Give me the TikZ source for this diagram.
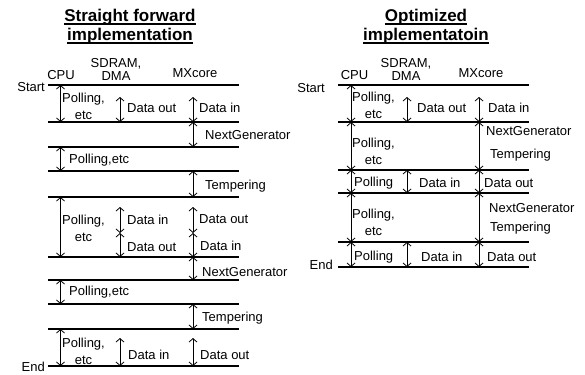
\documentclass[tikz,border=0pt]{standalone}
\usepackage{fontspec}
\setmainfont{Liberation Sans}
\usepackage{tikz}
\usetikzlibrary{arrows.meta}
\newcommand{\ulbar}[1]{\setbox0\hbox{#1}\rlap{\rule[-2.8pt]{\wd0}{1.2pt}}\box0}

\begin{document}
\begin{tikzpicture}[x=1pt, y=-1pt,
        every node/.style={inner sep=1pt, font=\fontsize{13}{17}\selectfont},
        lbl/.style={anchor=west, align=center},
        hdr/.style={align=center, font=\fontsize{13}{12.5}\selectfont},
        ttl/.style={align=center, font=\fontsize{17}{19}\selectfont\bfseries},
        tline/.style={line width=1.6pt},
        dur/.style={line width=0.8pt, {Straight Barb[length=3.5pt,width=8pt]}-{Straight Barb[length=3.5pt,width=8pt]}}]
        \useasboundingbox (0,0) rectangle (585,374);

        \node[ttl] (titleA) at (130,27) {\ulbar{Straight forward}\\\ulbar{implementation}};
        \node[ttl] (titleB) at (426,27) {\ulbar{Optimized}\\\ulbar{implementatoin}};

        \node[anchor=base] (cpuHA) at (61,80) {CPU};
        \node[hdr] (dmaHA) at (116,69.5) {SDRAM,\\DMA};
        \node[anchor=base] (mxHA) at (195,78) {MXcore};
        \node[anchor=base] (cpuHB) at (354.5,80) {CPU};
        \node[hdr] (dmaHB) at (406,69.5) {SDRAM,\\DMA};
        \node[anchor=base] (mxHB) at (481,78) {MXcore};

        \foreach \n/\y in {0/85,1/122,2/147,3/171,4/197,5/257,6/280,7/304,8/329,9/366}
            {\coordinate (sl\n) at (48,\y); \coordinate (sr\n) at (239,\y);
             \draw[tline] (sl\n) -- (sr\n);}
        \foreach \n/\y in {0/85,1/122,2/170,3/193,4/242,5/267}
            {\coordinate (ol\n) at (338,\y); \coordinate (or\n) at (529,\y);
             \draw[tline] (ol\n) -- (or\n);}

        \coordinate (cpuA) at (60.5,0);
        \coordinate (dmaA) at (120,0);
        \coordinate (mxA) at (193,0);
        \coordinate (cpuB) at (351,0);
        \coordinate (dmaB) at (407,0);
        \coordinate (mxB) at (479,0);
        \coordinate (sh1) at (48,97);
        \coordinate (sh5) at (48,207);
        \coordinate (sm5) at (48,233);
        \coordinate (sh9) at (48,338);
        \coordinate (oh1) at (338,97);

        \node[anchor=east] (startA) at (46,87) {Start};
        \node[anchor=east] (endA) at (46,367) {End};
        \node[anchor=east] (startB) at (326,88) {Start};
        \node[anchor=east] (endB) at (334,265) {End};

        \draw[dur] (cpuA |- sl0) -- (cpuA |- sl1);
        \draw[dur] (dmaA |- sh1) -- (dmaA |- sl1);
        \draw[dur] (mxA |- sh1) -- (mxA |- sl1);
        \draw[dur] (mxA |- sl1) -- (mxA |- sl2);
        \draw[dur] (cpuA |- sl2) -- (cpuA |- sl3);
        \draw[dur] (mxA |- sl3) -- (mxA |- sl4);
        \draw[dur] (cpuA |- sl4) -- (cpuA |- sl5);
        \draw[dur] (dmaA |- sh5) -- (dmaA |- sm5);
        \draw[dur] (dmaA |- sm5) -- (dmaA |- sl5);
        \draw[dur] (mxA |- sh5) -- (mxA |- sm5);
        \draw[dur] (mxA |- sm5) -- (mxA |- sl5);
        \draw[dur] (mxA |- sl5) -- (mxA |- sl6);
        \draw[dur] (cpuA |- sl6) -- (cpuA |- sl7);
        \draw[dur] (mxA |- sl7) -- (mxA |- sl8);
        \draw[dur] (cpuA |- sl8) -- (cpuA |- sl9);
        \draw[dur] (dmaA |- sh9) -- (dmaA |- sl9);
        \draw[dur] (mxA |- sh9) -- (mxA |- sl9);

        \draw[dur] (cpuB |- ol0) -- (cpuB |- ol1);
        \draw[dur] (dmaB |- oh1) -- (dmaB |- ol1);
        \draw[dur] (mxB |- oh1) -- (mxB |- ol1);
        \draw[dur] (cpuB |- ol1) -- (cpuB |- ol2);
        \draw[dur] (mxB |- ol1) -- (mxB |- ol2);
        \draw[dur] (cpuB |- ol2) -- (cpuB |- ol3);
        \draw[dur] (dmaB |- ol2) -- (dmaB |- ol3);
        \draw[dur] (mxB |- ol2) -- (mxB |- ol3);
        \draw[dur] (cpuB |- ol3) -- (cpuB |- ol4);
        \draw[dur] (mxB |- ol3) -- (mxB |- ol4);
        \draw[dur] (cpuB |- ol4) -- (cpuB |- ol5);
        \draw[dur] (dmaB |- ol4) -- (dmaB |- ol5);
        \draw[dur] (mxB |- ol4) -- (mxB |- ol5);

        \node[lbl] (pollA1) at (61,106) {Polling,\\etc};
        \node[lbl] (doutA1) at (126,108) {Data out};
        \node[lbl] (dinA1) at (198,108) {Data in};
        \node[lbl] (nextA1) at (204,135) {NextGenerator};
        \node[lbl] (pollA2) at (68,160) {Polling,etc};
        \node[lbl] (tempA1) at (204,186) {Tempering};
        \node[lbl] (pollA3) at (61,228) {Polling,\\etc};
        \node[lbl] (dinA2) at (126,220) {Data in};
        \node[lbl] (doutA2) at (126,247) {Data out};
        \node[lbl] (doutA3) at (198,219) {Data out};
        \node[lbl] (dinA3) at (199,246) {Data in};
        \node[lbl] (nextA2) at (201,272) {NextGenerator};
        \node[lbl] (pollA4) at (68,292) {Polling,etc};
        \node[lbl] (tempA2) at (201,318) {Tempering};
        \node[lbl] (pollA5) at (61,351) {Polling,\\etc};
        \node[lbl] (dinA4) at (127,355) {Data in};
        \node[lbl] (doutA4) at (199,355) {Data out};

        \node[lbl] (pollB1) at (351,105) {Polling,\\etc};
        \node[lbl] (doutB1) at (416,108) {Data out};
        \node[lbl] (dinB1) at (487,108) {Data in};
        \node[lbl] (pollB2) at (351,151) {Polling,\\etc};
        \node[lbl] (nextB1) at (485,131) {NextGenerator};
        \node[lbl] (tempB1) at (489,155) {Tempering};
        \node[lbl] (pollB3) at (353,183) {Polling};
        \node[lbl] (dinB2) at (418,183) {Data in};
        \node[lbl] (doutB2) at (483,183) {Data out};
        \node[lbl] (pollB4) at (351,222) {Polling,\\etc};
        \node[lbl] (nextB2) at (488,208) {NextGenerator};
        \node[lbl] (tempB2) at (489,228) {Tempering};
        \node[lbl] (pollB5) at (353,257) {Polling};
        \node[lbl] (dinB3) at (420,257) {Data in};
        \node[lbl] (doutB3) at (486,257) {Data out};
    \end{tikzpicture}
\end{document}
